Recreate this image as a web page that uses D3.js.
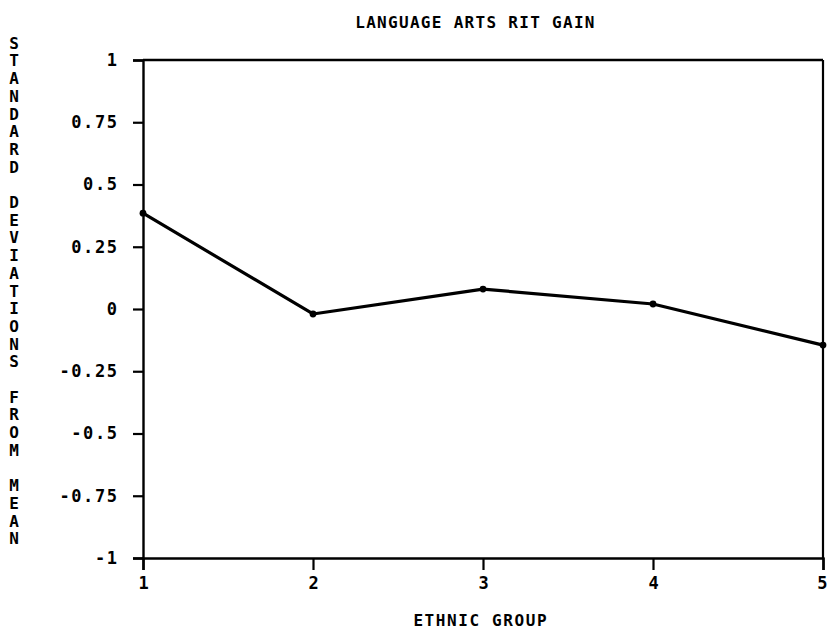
<!DOCTYPE html>
<html>
<head>
<meta charset="utf-8">
<script src="https://cdn.jsdelivr.net/npm/d3@7"></script>
<style>
  html, body { margin: 0; padding: 0; background: #fff; }
  svg { display: block; }
  text { font-family: "DejaVu Sans Mono", "Liberation Mono", monospace; font-weight: bold; fill: #000; }
</style>
</head>
<body>
<svg id="chart" width="827" height="631"></svg>
<script>
// ---- data ----
const categories = [1, 2, 3, 4, 5];
const values = [0.385, -0.02, 0.08, 0.02, -0.145];
const yTickValues = [1, 0.75, 0.5, 0.25, 0, -0.25, -0.5, -0.75, -1];
const yTickLabels = ["1", "0.75", "0.5", "0.25", "0", "-0.25", "-0.5", "-0.75", "-1"];
const xTickLabels = ["1", "2", "3", "4", "5"];
const chartTitle = "LANGUAGE ARTS RIT GAIN";
const xTitle = "ETHNIC GROUP";
const yTitle = "STANDARD DEVIATIONS FROM MEAN";

// ---- layout ----
const svg = d3.select("#chart");
const mLeft = 143, mRight = 823, mTop = 60, mBottom = 558;

const x = d3.scaleLinear().domain([1, 5]).range([mLeft, mRight]);
const y = d3.scaleLinear().domain([-1, 1]).range([mBottom, mTop]);

const FS = "16px";
const TFS = "17px";
const LS = 1.6; // letter spacing for tick labels

// frame (top and right)
svg.append("line").attr("x1", mLeft).attr("x2", mRight).attr("y1", mTop).attr("y2", mTop)
  .attr("stroke", "#000").attr("stroke-width", 2.4);
svg.append("line").attr("x1", mRight).attr("x2", mRight).attr("y1", mTop).attr("y2", mBottom)
  .attr("stroke", "#000").attr("stroke-width", 2.2);

// y axis
const yAxis = d3.axisLeft(y)
  .tickValues(yTickValues)
  .tickFormat((d, i) => yTickLabels[i])
  .tickSize(10)
  .tickPadding(16 - LS);
const gy = svg.append("g").attr("transform", `translate(${mLeft},0)`).call(yAxis);
gy.select(".domain").attr("stroke", "#000").attr("stroke-width", 2.4);
gy.selectAll(".tick line").attr("stroke", "#000").attr("stroke-width", 2.2);
gy.selectAll(".tick text").style("font-size", TFS).style("letter-spacing", LS + "px");

// x axis
const xAxis = d3.axisBottom(x)
  .tickValues(categories)
  .tickFormat((d, i) => xTickLabels[i])
  .tickSize(12)
  .tickPadding(7);
const gx = svg.append("g").attr("transform", `translate(0,${mBottom})`).call(xAxis);
gx.select(".domain").attr("stroke", "#000").attr("stroke-width", 2.4);
gx.selectAll(".tick line").attr("stroke", "#000").attr("stroke-width", 2.2);
gx.selectAll(".tick text").style("font-size", TFS);
// keep the last label inside the page edge
gx.selectAll(".tick text").filter((d, i, n) => i === n.length - 1)
  .attr("text-anchor", "end").attr("x", 4);

// line
const line = d3.line().x((d, i) => x(categories[i])).y(d => y(d));
svg.append("path").datum(values)
  .attr("d", line)
  .attr("fill", "none")
  .attr("stroke", "#000")
  .attr("stroke-width", 3.2)
  .attr("stroke-linejoin", "round");

svg.selectAll("circle.pt").data(values).enter().append("circle")
  .attr("class", "pt")
  .attr("cx", (d, i) => x(categories[i]))
  .attr("cy", d => y(d))
  .attr("r", 3.4)
  .attr("fill", "#000");

// title
svg.append("text")
  .attr("x", 475.5).attr("y", 28)
  .attr("text-anchor", "middle")
  .style("font-size", FS)
  .style("letter-spacing", "1.3px")
  .text(chartTitle);

// x title
svg.append("text")
  .attr("x", 480.8).attr("y", 626)
  .attr("text-anchor", "middle")
  .style("font-size", FS)
  .style("letter-spacing", "1.6px")
  .text(xTitle);

// y title: stacked upright letters
const chars = yTitle.split("");
const pitch = 17.7;
svg.append("g").selectAll("text").data(chars).enter().append("text")
  .attr("x", 14)
  .attr("y", (d, i) => 43 + i * pitch)
  .attr("dy", "0.36em")
  .attr("text-anchor", "middle")
  .style("font-size", FS)
  .text(d => d);
</script>
</body>
</html>
